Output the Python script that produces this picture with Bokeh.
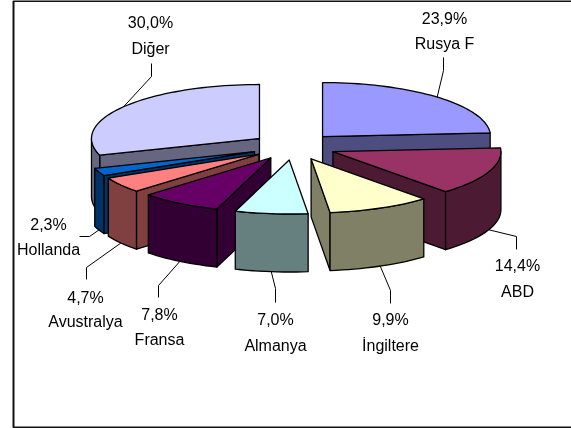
import math
from bokeh.plotting import figure
from bokeh.embed import file_html
from bokeh.resources import INLINE
from bokeh.core.properties import value

# --- data ---
categories = ["Rusya F", "ABD", "İngiltere", "Almanya", "Fransa", "Avustralya", "Hollanda", "Diğer"]
shares = [23.9, 14.4, 9.9, 7.0, 7.8, 4.7, 2.3, 30.0]
share_labels = ["23,9%", "14,4%", "9,9%", "7,0%", "7,8%", "4,7%", "2,3%", "30,0%"]
top_colors = ["#9999FF", "#993366", "#FFFFCC", "#CCFFFF", "#660066", "#FF8080", "#0066CC", "#CCCCFF"]
side_colors = ["#4D4D80", "#4D1A33", "#808066", "#668080", "#330033", "#804040", "#003366", "#666680"]

# --- layout (pixels) ---
W, H = 571, 428
CX, CY = 293.2, 146.0      # pie centre before explosion
RX, RY = 168.0, 54.0       # ellipse radii
DEPTH = 58.0               # height of the pie wall
EXPLODE = 42.3             # horizontal explosion; vertical follows RY/RX
label_x = [444, 517, 390, 275, 159, 85, 48, 150]
label_y1 = [18, 265, 319, 319, 314, 297, 224, 22]
label_y2 = [43, 291, 345, 345, 339, 321, 249, 48]
elbow_end = [(443, 57), (516, 249), (390, 303), (275, 302), (158, 297), (86, 279), (79, 236), (151, 63)]
elbow_mid = [(443, 70), (516, 236), (390, 290), (275, 288), (158, 285), (86, 267), (89, 236), (151, 76)]

p = figure(width=W, height=H, x_range=(0, W), y_range=(H, 0), toolbar_location=None,
           output_backend="svg", min_border=0, outline_line_color=None,
           background_fill_color="white", border_fill_color="white",
           styles={"position": "fixed", "left": "0px", "top": "0px"})
p.axis.visible = False
p.grid.visible = False

# frame
p.line([W, 13, 13, W], [0.5, 0.5, 427, 427], line_color="#111111", line_width=2)

def pt(ax, ay, deg):
    a = math.radians(deg)
    return ax + RX * math.sin(a), ay - RY * math.cos(a)

def arc(ax, ay, a1, a2):
    n = max(2, int(abs(a2 - a1) / 2) + 1)
    return [pt(ax, ay, a1 + (a2 - a1) * i / (n - 1)) for i in range(n)]

def poly(points, color):
    p.patch([q[0] for q in points], [q[1] for q in points], fill_color=color,
            line_color="black", line_width=1.3, line_join="round")

# slices
cum = 0.0
slices = []
for i, s in enumerate(shares):
    a1 = cum / 100 * 360
    cum += s
    a2 = cum / 100 * 360
    mid = (a1 + a2) / 2
    m = math.radians(mid)
    ax = CX + EXPLODE * math.sin(m)
    ay = CY - EXPLODE * RY / RX * math.cos(m)
    slices.append(dict(i=i, a1=a1, a2=a2, mid=mid, ax=ax, ay=ay))

anchors = {}
for sl in sorted(slices, key=lambda d: -math.cos(math.radians(d["mid"]))):
    i, a1, a2, ax, ay, mid = sl["i"], sl["a1"], sl["a2"], sl["ax"], sl["ay"], sl["mid"]
    side = side_colors[i]
    # radial walls that face the viewer
    if math.sin(math.radians(a1)) < -1e-6:
        o = pt(ax, ay, a1)
        poly([(ax, ay), o, (o[0], o[1] + DEPTH), (ax, ay + DEPTH)], side)
    if math.sin(math.radians(a2)) > 1e-6:
        o = pt(ax, ay, a2)
        poly([(ax, ay), o, (o[0], o[1] + DEPTH), (ax, ay + DEPTH)], side)
    # curved outer wall, front half only
    lo, hi = max(a1, 90.0), min(a2, 270.0)
    if lo < hi:
        top = arc(ax, ay, lo, hi)
        poly(top + [(x, y + DEPTH) for x, y in reversed(top)], side)
    # top face
    poly([(ax, ay)] + arc(ax, ay, a1, a2), top_colors[i])
    # where the leader line touches the slice
    x, y = pt(ax, ay, mid)
    anchors[i] = (x, y + (DEPTH if math.cos(math.radians(mid)) < 0 else 0))

# leader lines and labels
for i in range(len(categories)):
    xs = [elbow_end[i][0], elbow_mid[i][0], anchors[i][0]]
    ys = [elbow_end[i][1], elbow_mid[i][1], anchors[i][1]]
    p.line(xs, ys, line_color="black", line_width=1)

font = value("Liberation Sans")
p.text(label_x, label_y1, text=share_labels, text_font=font, text_font_size="16px",
       text_align="center", text_baseline="middle", text_color="black")
p.text(label_x, label_y2, text=categories, text_font=font, text_font_size="16px",
       text_align="center", text_baseline="middle", text_color="black")

open("out.html", "w").write(file_html(p, INLINE))
